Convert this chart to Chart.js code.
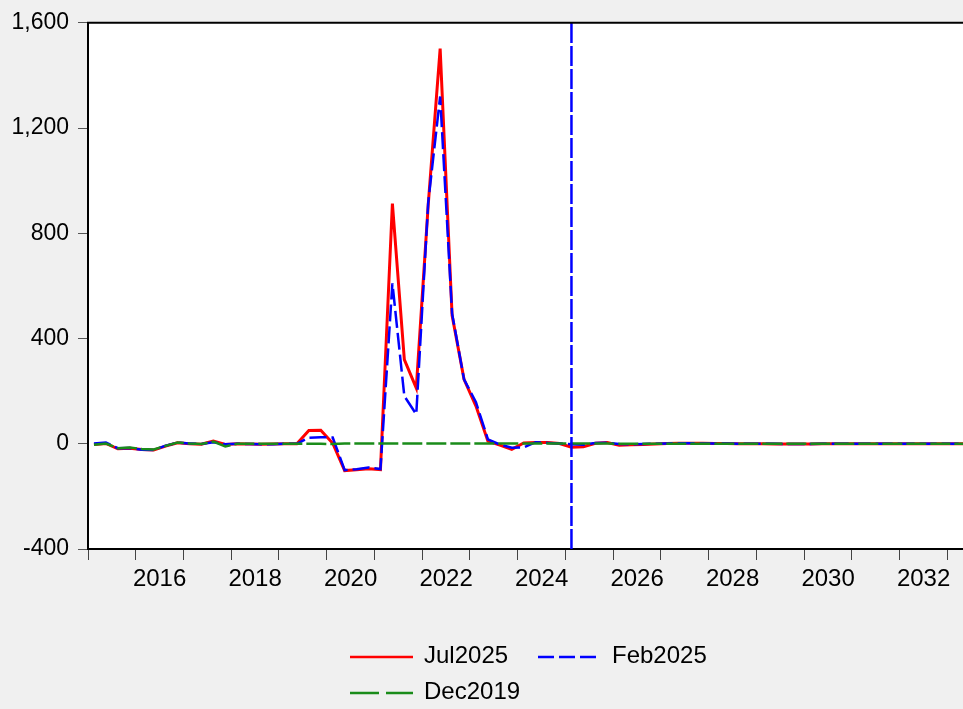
<!DOCTYPE html>
<html>
<head>
<meta charset="utf-8">
<script src="https://cdn.jsdelivr.net/npm/chart.js@4.4.1/dist/chart.umd.min.js"></script>
<style>
  html, body { margin: 0; padding: 0; background: #f0f0f0; }
  canvas { display: block; }
</style>
</head>
<body>
<canvas id="chart" width="963" height="709"></canvas>
<script>
// quarterly series, first point is 2015Q1
const startYear = 2015;
const quarters = [];
for (let i = 0; i < 74; i++) quarters.push((startYear + Math.floor(i / 4)) + 'Q' + (i % 4 + 1));

const jul2025 = [
  -3, 1, -19, -17, -22, -24, -9, 4, 0, -2, 10, -3, 0, -1, -2, -1,
  0, 0, 50, 51, 2, -102, -99, -95, -98, 913, 320, 212, 908, 1502, 488, 245,
  143, 10, -5, -21, 3, 5, 5, 1, -13, -11, 2, 5, -6, -4, -3, -1,
  1, 2, 2, 2, 1, 1, 0, 0, 0, -1, -1, -1, -1, 0, 0, 0,
  0, 0, 0, 0, 0, 0, 0, 0, 0, 0
];
const feb2025 = [
  1, 5, -17, -16, -23, -24, -7, 4, 1, -1, 6, -2, 0, -1, -2, -2,
  0, 0, 23, 25, 24, -100, -97, -90, -96, 610, 181, 112, 917, 1320, 495, 245,
  158, 17, -3, -15, -14, 6, 3, 1, -2, -4, 3, 4, -1, -2, -1, 0,
  1, 2, 2, 1, 1, 1, 0, 0, 0, 0, -1, -1, -1, 0, 0, 0,
  0, 0, 0, 0, 0, 0, 0, 0, 0, 0
];
const dec2019 = [
  -4, 1, -17, -14, -20, -22, -8, 5, 1, -1, 8, -10, 0, 0, 0, 0,
  0, 0, 0, 0, -1, 1, 1, 1, 1, 1, 1, 1, 1, 1, 1, 1,
  1, 1, 1, 1, 1, 1, 1, 1, 1, 1, 1, 1, 0, 0, 0, 0,
  0, 0, 0, 0, 0, 0, 0, 0, 0, 0, 0, 0, 0, 0, 0, 0,
  0, 0, 0, 0, 0, 0, 0, 0, 0, 0
];

const forecastStart = '2025Q1';
const yearStarts = [];
for (let y = 2015; y <= 2033; y++) yearStarts.push(y);
const yearLabels = [2016, 2018, 2020, 2022, 2024, 2026, 2028, 2030, 2032];

const toPoints = arr => arr.map((v, i) => ({ x: i, y: v }));
const vIdx = quarters.indexOf(forecastStart);

const FONT = 'Arial, "Liberation Sans", sans-serif';
Chart.defaults.font.family = FONT;
Chart.defaults.color = '#000';

const plotFrame = {
  id: 'plotFrame',
  beforeDraw(chart) {
    const { ctx, chartArea: a } = chart;
    ctx.save();
    ctx.fillStyle = '#ffffff';
    ctx.fillRect(a.left, a.top, a.right - a.left, a.bottom - a.top);
    ctx.restore();
  },
  afterDraw(chart) {
    const { ctx, chartArea: a } = chart;
    ctx.save();
    ctx.strokeStyle = '#000';
    ctx.lineWidth = 2;
    ctx.beginPath();
    ctx.moveTo(a.left - 1, a.top);
    ctx.lineTo(a.right, a.top);
    ctx.stroke();
    ctx.restore();
  }
};

// EViews-like legend: two columns, left aligned rows
const legendSpots = [
  { label: 'Jul2025', x: 350, y: 657 },
  { label: 'Feb2025', x: 538, y: 657 },
  { label: 'Dec2019', x: 350, y: 693 }
];
const bottomLegend = {
  id: 'bottomLegend',
  afterDraw(chart) {
    const ctx = chart.ctx;
    ctx.save();
    legendSpots.forEach(s => {
      const ds = chart.data.datasets.find(d => d.label === s.label);
      ctx.strokeStyle = ds.borderColor;
      ctx.lineWidth = 2.5;
      ctx.setLineDash(ds.legendDash || []);
      ctx.beginPath();
      ctx.moveTo(s.x, s.y);
      ctx.lineTo(s.x + 63, s.y);
      ctx.stroke();
      ctx.setLineDash([]);
      ctx.fillStyle = '#000';
      ctx.font = '24px ' + FONT;
      ctx.textBaseline = 'middle';
      ctx.textAlign = 'left';
      ctx.fillText(s.label, s.x + 74, s.y - 1);
    });
    ctx.restore();
  }
};

const ctx = document.getElementById('chart').getContext('2d');
new Chart(ctx, {
  type: 'line',
  data: {
    datasets: [
      {
        label: 'forecast',
        data: [{ x: vIdx, y: -400 }, { x: vIdx, y: 1600 }],
        borderColor: '#0000ff',
        borderWidth: 2.5,
        borderDash: [20, 3],
        pointRadius: 0
      },
      {
        label: 'Dec2019',
        data: toPoints(dec2019),
        borderColor: '#1a8c1a',
        borderWidth: 2.5,
        borderDash: [20, 4],
        legendDash: [29, 7],
        pointRadius: 0,
        tension: 0
      },
      {
        label: 'Feb2025',
        data: toPoints(feb2025),
        borderColor: '#0000ff',
        borderWidth: 2.5,
        borderDash: [17, 5],
        legendDash: [16, 5],
        pointRadius: 0,
        tension: 0
      },
      {
        label: 'Jul2025',
        data: toPoints(jul2025),
        borderColor: '#ff0000',
        borderWidth: 3,
        pointRadius: 0,
        tension: 0
      }
    ]
  },
  options: {
    responsive: false,
    animation: false,
    events: [],
    layout: { padding: { top: 20, right: 0, bottom: 108, left: 0 } },
    plugins: {
      legend: { display: false },
      tooltip: { enabled: false }
    },
    scales: {
      y: {
        type: 'linear',
        min: -400,
        max: 1600,
        afterBuildTicks: s => { s.ticks = [-400, 0, 400, 800, 1200, 1600].map(v => ({ value: v })); },
        afterFit: s => { s.width = 88; },
        ticks: {
          padding: 9,
          font: { size: 23 },
          color: '#000',
          callback: v => v.toLocaleString('en-US')
        },
        grid: { drawOnChartArea: false, drawTicks: true, tickLength: 10, color: '#555' },
        border: { display: true, color: '#000', width: 2 }
      },
      x: {
        type: 'linear',
        position: 'bottom',
        weight: 0,
        min: -0.5,
        max: 72.8,
        afterBuildTicks: s => { s.ticks = yearStarts.map(y => ({ value: (y - startYear) * 4 - 0.5 })); },
        afterFit: s => { s.height = 12; },
        ticks: { display: false, autoSkip: false },
        grid: { drawOnChartArea: false, drawTicks: true, tickLength: 11, color: '#444' },
        border: { display: true, color: '#000', width: 2 }
      },
      x2: {
        type: 'linear',
        position: 'bottom',
        weight: 1,
        min: -0.5,
        max: 72.8,
        afterBuildTicks: s => { s.ticks = yearLabels.map(y => ({ value: (y - startYear) * 4 + 1.5 })); },
        afterFit: s => { s.height = 40; },
        ticks: {
          autoSkip: false,
          maxRotation: 0,
          padding: 4,
          font: { size: 24 },
          color: '#000',
          callback: v => String(startYear + (v - 1.5) / 4)
        },
        grid: { display: false, drawTicks: false },
        border: { display: false }
      }
    }
  },
  plugins: [plotFrame, bottomLegend]
});
</script>
</body>
</html>
